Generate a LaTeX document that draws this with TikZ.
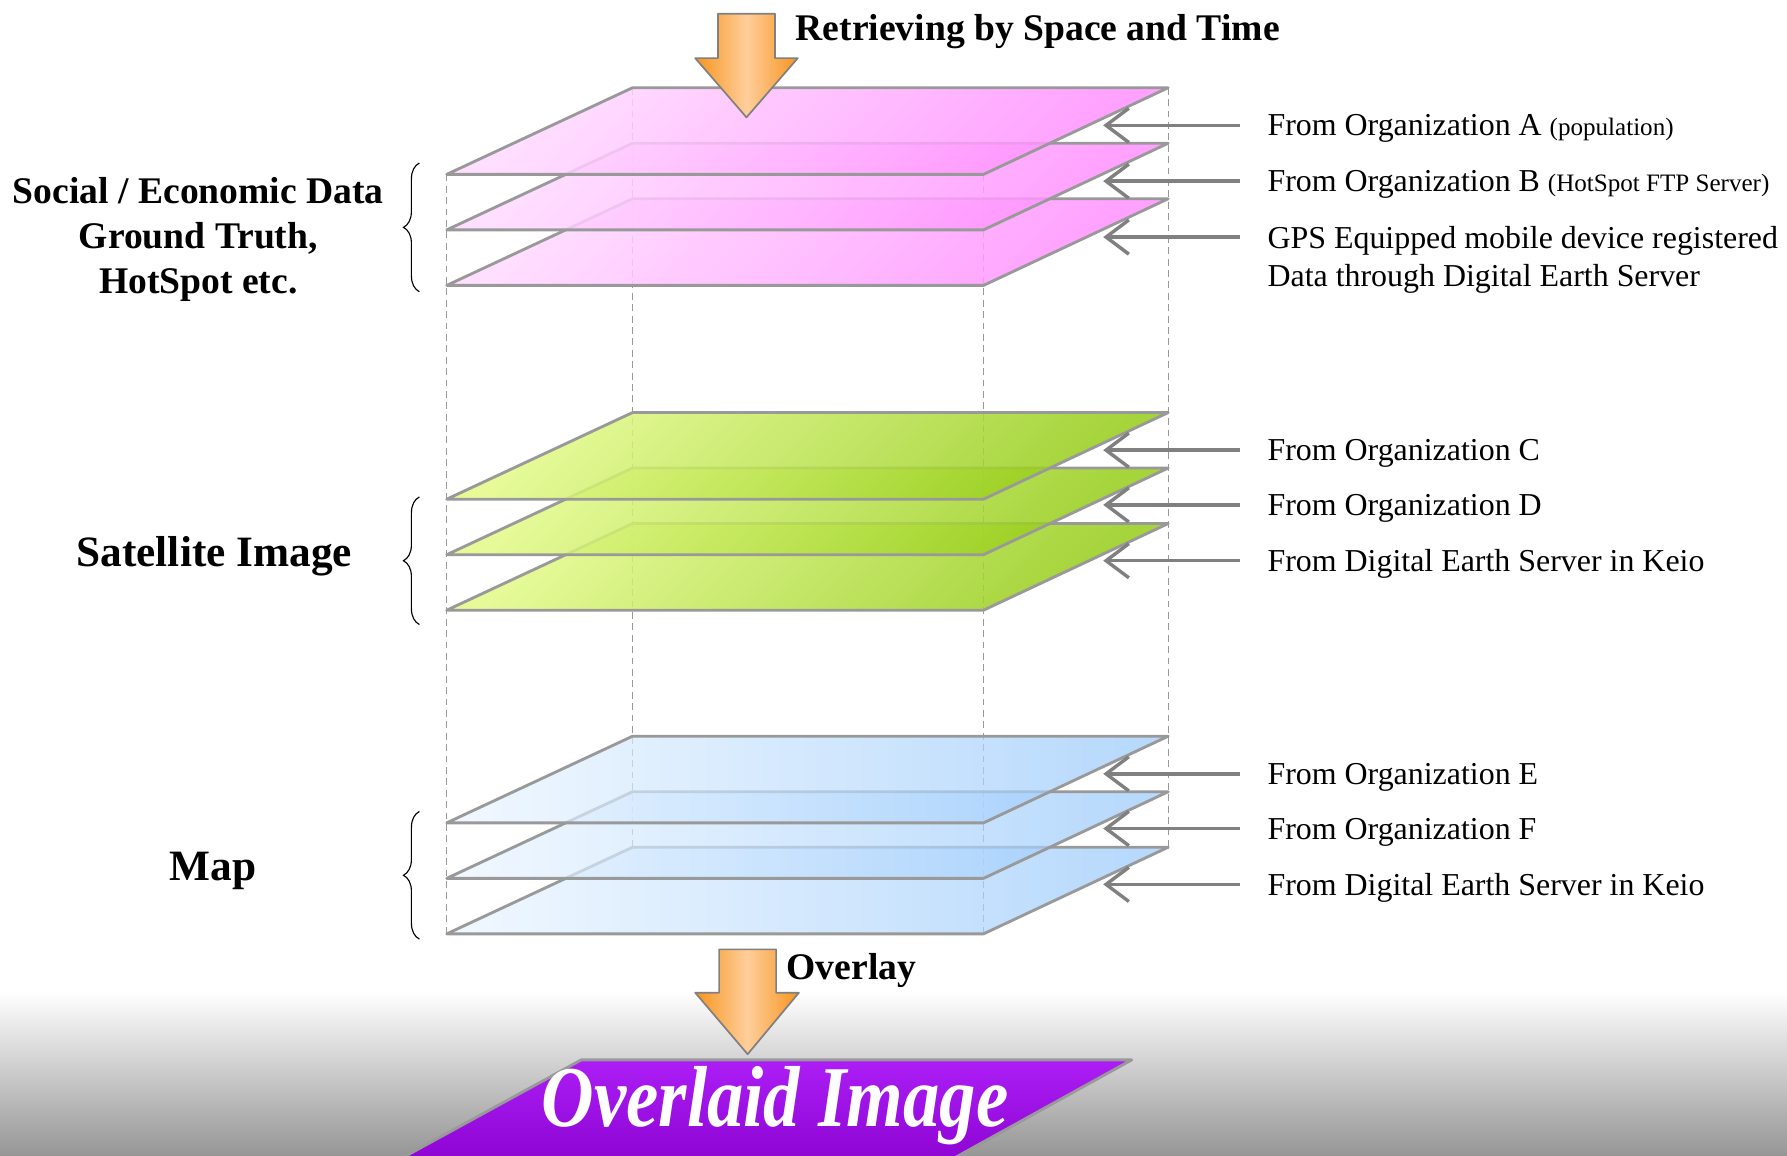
\documentclass[tikz,border=0pt]{standalone}
\usepackage{fontspec}
\usepackage{graphicx}
\setmainfont{Liberation Serif}
\usetikzlibrary{arrows.meta,decorations.pathreplacing,positioning}

\definecolor{edgegray}{RGB}{153,153,153}
\definecolor{arrgray}{RGB}{128,128,128}
\definecolor{pinklight}{RGB}{255,218,255}
\definecolor{pinkdark}{RGB}{255,145,255}
\definecolor{greenlight}{RGB}{226,250,135}
\definecolor{greendark}{RGB}{150,205,25}
\definecolor{bluelight}{RGB}{236,246,255}
\definecolor{bluedark}{RGB}{150,200,252}
\definecolor{orangedark}{RGB}{247,148,29}
\definecolor{orangelight}{RGB}{255,206,155}
\definecolor{purpletop}{RGB}{172,30,245}
\definecolor{purplebot}{RGB}{135,0,205}
\definecolor{bggray}{RGB}{150,150,150}

\newcommand\smallpart[1]{{\fontsize{22}{26}\selectfont #1}}

\tikzset{
  plate/.style={draw=edgegray, line width=2.5pt, line join=round},
  pinkplate/.style={plate, fill opacity=0.85, top color=pinklight, bottom color=pinkdark, shading angle=45},
  greenplate/.style={plate, fill opacity=0.85, top color=greenlight, bottom color=greendark, shading angle=45},
  blueplate/.style={plate, fill opacity=0.7, left color=bluelight, right color=bluedark},
  guide/.style={draw=edgegray, line width=1pt, dash pattern=on 6pt off 4pt},
  feed/.style={draw=arrgray, line width=3pt, -{Straight Barb[length=20pt,width=30pt]}},
  lbl/.style={anchor=west, inner xsep=24pt, inner ysep=2pt, text depth=0pt, font=\fontsize{28}{34}\selectfont},
  grouplbl/.style={align=center, font=\bfseries\fontsize{33}{39.5}\selectfont},
  biglbl/.style={font=\bfseries\fontsize{38}{44}\selectfont},
  bigarrow/.style={draw=arrgray, line width=1.5pt, line join=round, left color=orangedark, right color=orangedark, middle color=orangelight},
  grpbrace/.style={decorate, decoration={brace, amplitude=14pt}, line width=1pt}
}

\begin{document}
\begin{tikzpicture}[x=1pt,y=-1pt]
\useasboundingbox (0,0) rectangle (1568,1014);
\fill[white] (0,0) rectangle (1568,1014);
\fill[top color=white, bottom color=bggray] (0,870) rectangle (1568,1014);

% guide lines
\draw[guide] (392,153) -- (392,819);
\draw[guide] (863,153) -- (863,819);
\draw[guide] (555,77) -- (555,743);
\draw[guide] (1025,77) -- (1025,743);

% layers, lowest first
\foreach \yb/\kind in {174.4/pinkplate,125.7/pinkplate,77/pinkplate,
  459.4/greenplate,410.7/greenplate,362/greenplate,
  743.4/blueplate,694.7/blueplate,646/blueplate}
  \path[\kind] (555,\yb) -- (1025,\yb) -- (863,{\yb+76}) -- (392,{\yb+76}) -- cycle;

% sources
\node[lbl] (la) at (1088,110) {From Organization A \smallpart{(population)}};
\node[lbl] (lb) at (1088,159) {From Organization B \smallpart{(HotSpot FTP Server)}};
\node[lbl] (lc) at (1088,208) {GPS Equipped mobile device registered};
\node[lbl] (lc2) at (1088,242) {Data through Digital Earth Server};
\node[lbl] (ld) at (1088,395) {From Organization C};
\node[lbl] (le) at (1088,443) {From Organization D};
\node[lbl] (lf) at (1088,492) {From Digital Earth Server in Keio};
\node[lbl] (lg) at (1088,679) {From Organization E};
\node[lbl] (lh) at (1088,727) {From Organization F};
\node[lbl] (li) at (1088,776) {From Digital Earth Server in Keio};
\foreach \src in {la,lb,lc,ld,le,lf,lg,lh,li}{
  \coordinate (t\src) at ([xshift=-120pt]\src.west);
  \draw[feed] (\src.west) -- (t\src);
}

% groups
\node[grouplbl] (social) at (174,210) {Social / Economic Data\\Ground Truth,\\HotSpot etc.};
\node[biglbl] (sat) at (188,488) {Satellite Image};
\node[biglbl] (map) at (187,764) {Map};
\draw[grpbrace] (368,256) -- (368,143);
\draw[grpbrace] (368,548) -- (368,436);
\draw[grpbrace] (368,824) -- (368,712);

% retrieval arrow
\path[bigarrow] (630,12) -- (680,12) -- (680,51) -- (700,51) -- (655,103) -- (610,51) -- (630,51) -- cycle;
\node[anchor=west, inner sep=0pt, font=\bfseries\fontsize{33}{40}\selectfont] (retr) at (698,28) {Retrieving by Space and Time};

% overlay arrow
\path[bigarrow] (631,833) -- (681,833) -- (681,871) -- (701,871) -- (656,925) -- (610,871) -- (631,871) -- cycle;
\node[anchor=west, inner sep=0pt, font=\bfseries\fontsize{33}{40}\selectfont] (ovly) at (690,852) {Overlay};

% result
\path[draw=edgegray, line width=2.5pt, line join=round, top color=purpletop, bottom color=purplebot]
  (510,930) -- (993,930) -- (805,1034) -- (320,1034) -- cycle;
\node[text=white, font=\bfseries\itshape\fontsize{76}{80}\selectfont] (result) at (680,970) {\scalebox{0.84}[1]{Overlaid Image}};
\end{tikzpicture}
\end{document}
